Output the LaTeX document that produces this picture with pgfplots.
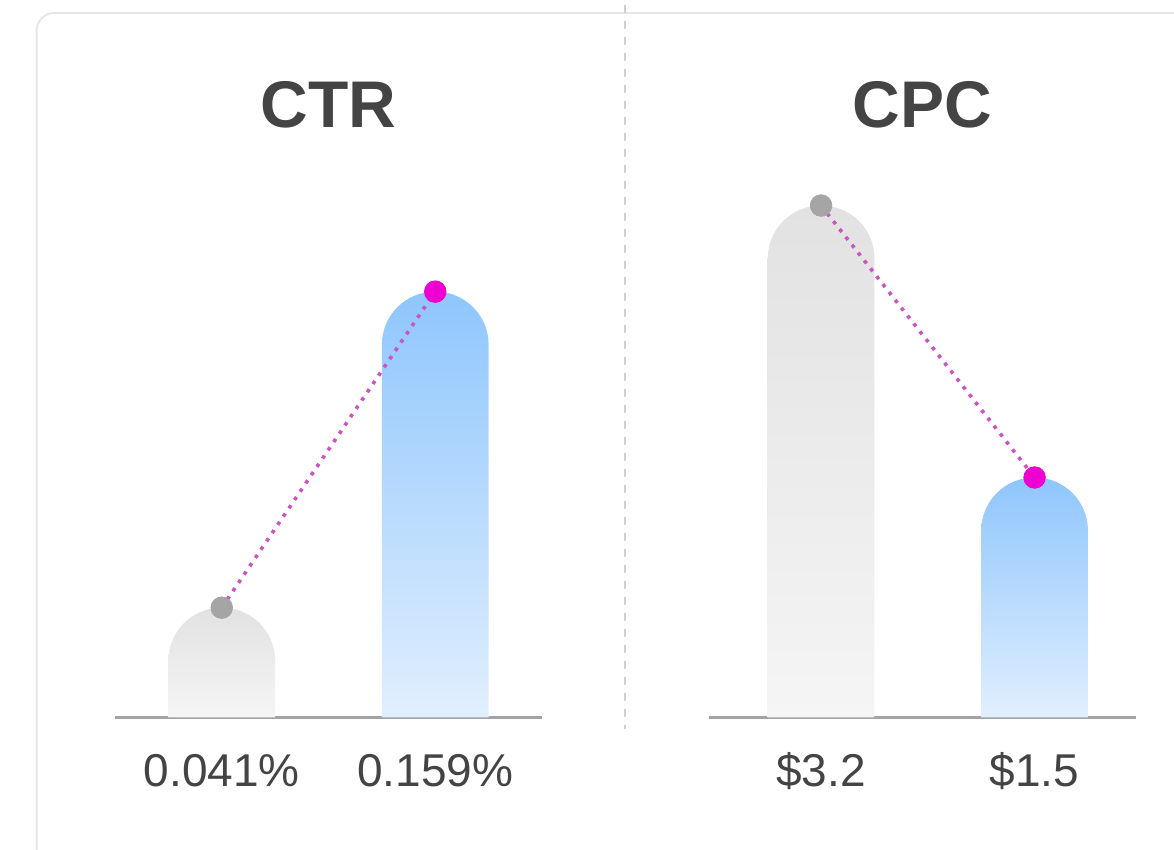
\documentclass[border=0pt]{standalone}
\usepackage{pgfplots}
\pgfplotsset{compat=1.18}
\usepackage{fontspec}
\setmainfont{Liberation Sans}
\definecolor{txt}{HTML}{444444}
\definecolor{cardgray}{HTML}{E6E6E6}
\definecolor{sepgray}{HTML}{CFCFCF}
\definecolor{axisgray}{HTML}{A3A3A3}
\definecolor{grayTop}{HTML}{E2E2E2}
\definecolor{grayBot}{HTML}{F5F5F5}
\definecolor{blueTop}{HTML}{8FC6FD}
\definecolor{blueBot}{HTML}{E1EFFE}
\definecolor{mkGray}{HTML}{A5A5A5}
\definecolor{mkMag}{HTML}{EE00D0}
\definecolor{lineCol}{HTML}{CA55C2}
\pgfplotsset{
  panel/.style={
    scale only axis, width=213.5pt, height=283.5pt,
    anchor=south west, clip=false,
    axis x line*=bottom, axis y line=none,
    x axis line style={draw=axisgray, line width=1.4pt, -},
    ytick=\empty, xtick={1,2}, major tick length=0pt,
    ymin=0,
    /pgf/number format/assume math mode=true,
    xticklabel style={font=\fontsize{23}{27}\selectfont, text=txt, anchor=base, yshift=-34.5pt},
    title style={font=\fontsize{33}{38}\selectfont\bfseries, text=txt, at={(0.5,1)}, anchor=base, yshift=5.25pt},
  },
  rbar/.style={draw=none, rounded corners=26.5pt, forget plot},
  conn/.style={lineCol, line width=1.8pt, dash pattern=on 1.8pt off 3.2pt, mark=none},
}
\begin{document}
\begin{tikzpicture}
\useasboundingbox (0pt,0pt) rectangle (587pt,425pt);
\begin{scope}
\clip (0pt,0pt) rectangle (587pt,425pt);
\draw[cardgray, line width=1pt, rounded corners=9pt] (18.25pt,-10pt) rectangle (625pt,418.5pt);
\end{scope}
\draw[sepgray, line width=0.75pt, dash pattern=on 4pt off 4pt, dash phase=-2.5pt] (312.5pt,425pt) -- (312.5pt,60.5pt);

% CTR panel
\begin{axis}[panel, at={(57.5pt,66.25pt)}, xmin=0.5, xmax=2.5, ymax=0.2117,
  title={CTR}, xticklabels={0.041\%, 0.159\%}]
\addplot[rbar, top color=grayTop, bottom color=grayBot] coordinates {(0.75,0) (0.75,0.041) (1.25,0.041) (1.25,0)};
\addplot[rbar, top color=blueTop, bottom color=blueBot] coordinates {(1.75,0) (1.75,0.159) (2.25,0.159) (2.25,0)};
\addplot[conn] coordinates {(1,0.041) (2,0.159)};
\addplot[only marks, mark=*, mark size=5.4pt, mkGray, mark options={draw=none, fill=mkGray}] coordinates {(1,0.041)};
\addplot[only marks, mark=*, mark size=5.4pt, mkMag, mark options={draw=none, fill=mkMag}] coordinates {(2,0.159)};
\end{axis}

% CPC panel
\begin{axis}[panel, at={(354.5pt,66.25pt)}, xmin=0.475, xmax=2.475, ymax=3.544,
  title={CPC}, xticklabels={\$3.2, \$1.5}]
\addplot[rbar, top color=grayTop, bottom color=grayBot] coordinates {(0.75,0) (0.75,3.2) (1.25,3.2) (1.25,0)};
\addplot[rbar, top color=blueTop, bottom color=blueBot] coordinates {(1.75,0) (1.75,1.5) (2.25,1.5) (2.25,0)};
\addplot[conn] coordinates {(1,3.2) (2,1.5)};
\addplot[only marks, mark=*, mark size=5.4pt, mkGray, mark options={draw=none, fill=mkGray}] coordinates {(1,3.2)};
\addplot[only marks, mark=*, mark size=5.4pt, mkMag, mark options={draw=none, fill=mkMag}] coordinates {(2,1.5)};
\end{axis}
\end{tikzpicture}
\end{document}
